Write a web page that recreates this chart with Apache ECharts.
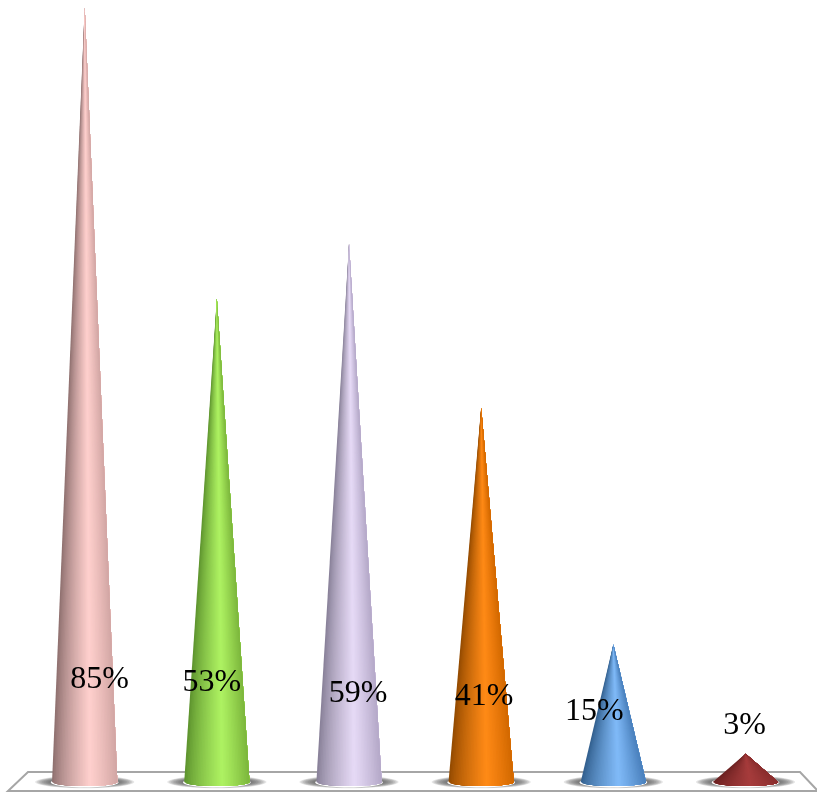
<!DOCTYPE html>
<html><head><meta charset="utf-8">
<style>html,body{margin:0;padding:0;background:#fff}#c{width:817px;height:792px}</style>
<script src="https://cdn.jsdelivr.net/npm/echarts@6/dist/echarts.min.js"></script>
</head><body><div id="c"></div>
<script>
const categories = ['A','B','C','D','E','F'];
const values = [85,53,59,41,15,3];
const valueLabels = ['85%','53%','59%','41%','15%','3%'];
const leftShade  = ['#8a6c6c','#5a8f2c','#857d94','#8f4800','#2f5c8a','#6a2020'];
const brightShade= ['#ffd0cd','#aef262','#e6daf6','#ff8a16','#80baf8','#a63c3c'];
const rightShade = ['#d2a6a4','#7cb63c','#b4a8c8','#d26800','#4a80bc','#8a2e2e'];
const labelShiftX = [15,-5,9,3,-19,-1];
const labelY = [680,683,694,697,712,726];

function hex(c){return [1,3,5].map(i=>parseInt(c.substr(i,2),16));}
function mix(a,b,t){const A=hex(a),B=hex(b);return 'rgb('+A.map((v,i)=>Math.round(v+(B[i]-v)*t)).join(',')+')';}
function shade(i,t){
  const u=(t+1)/2;
  if(u<0.58){const k=u/0.58;return mix(leftShade[i],brightShade[i],Math.pow(k,0.75));}
  const k=(u-0.58)/0.42;return mix(brightShade[i],rightShade[i],Math.pow(k,1.1));
}
function ellipsePts(cx,cy,rx,ry){
  const p=[];
  for(let a=0;a<48;a++){const r=a/48*Math.PI*2;p.push([cx+rx*Math.cos(r),cy+ry*Math.sin(r)]);}
  return p;
}
const SLICES=40;
function renderCone(params,api){
  const i=api.value(0),v=api.value(1);
  const tip=api.coord([i,v]),zero=api.coord([i,0]);
  const cx=tip[0],hw=api.size([1,0])[0]*0.247,by=zero[1]+1,ry=4;
  const kids=[];
  const layers=9;
  for(let k=0;k<layers;k++){
    const f=k/(layers-1);
    kids.push({type:'polygon',shape:{points:ellipsePts(cx,by,hw*(1.52-0.42*f),6.2-2.2*f)},style:{fill:'rgba(90,90,90,0.15)'}});
  }
  kids.push({type:'polygon',shape:{points:ellipsePts(cx,by+0.4,hw+1.2,ry+1.1)},style:{fill:'#ffffff'}});
  for(let s=0;s<SLICES;s++){
    const t0=-1+2*s/SLICES;
    const pts=[[cx,tip[1]]];
    for(let k=0;k<=24;k++){
      const t=t0+(1-t0)*k/24;
      pts.push([cx+hw*t,by+ry*Math.sqrt(Math.max(0,1-t*t))]);
    }
    kids.push({type:'polygon',shape:{points:pts},style:{fill:shade(i,t0+1/SLICES)}});
  }
  return {type:'group',children:kids};
}
function renderLabel(params,api){
  const i=api.value(0),c=api.coord([i,0]);
  return {type:'text',x:c[0]+labelShiftX[i],y:labelY[i],style:{text:valueLabels[i],fill:'#000',font:'32px "Liberation Serif"',align:'center',verticalAlign:'middle'}};
}
const chart=echarts.init(document.getElementById('c'),null,{renderer:'canvas'});
const data=values.map((v,i)=>[i,v]);
chart.setOption({
  animation:false,
  backgroundColor:'#ffffff',
  grid:{left:18.6,right:5.4,top:7.5,bottom:11},
  xAxis:{type:'category',data:categories,show:false},
  yAxis:{type:'value',min:0,max:85,show:false},
  graphic:[{type:'polygon',z:0,silent:true,shape:{points:[[28,772],[800,772],[818,791],[8,791]]},style:{fill:'#ffffff',stroke:'#a6a6a6',lineWidth:2}}],
  series:[
    {type:'custom',data:data,renderItem:renderCone,encode:{x:0,y:1},clip:false,z:2},
    {type:'custom',data:data,renderItem:renderLabel,encode:{x:0,y:1},clip:false,z:3}
  ]
});
</script></body></html>
